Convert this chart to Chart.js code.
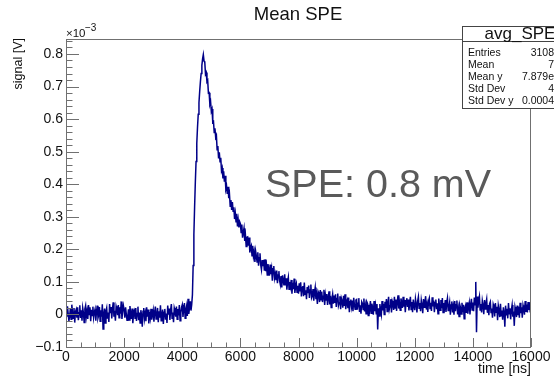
<!DOCTYPE html>
<html lang="en">
<head>
    <meta charset="UTF-8">
    <title>Mean SPE</title>
    <script src="https://cdn.jsdelivr.net/npm/chart.js"></script>
    <style>
        html, body { margin: 0; padding: 0; background: #fff; }
        .wrap { width: 554px; height: 379px; position: relative; }
    </style>
</head>
<body>
    <div class="wrap"><canvas id="speChart" width="554" height="379"></canvas></div>

    <script>
        // averaged waveform, one value per 25 ns bin, in microvolts
        const binWidthNs = 25;
        const sig0to2k = [
            12, -8, 25, 3, -20, -5, 18, -15, 30, 6, -12, 20, -25, 8, 15, -10, 22, -18, 5, 28,
            -11, 13, -19, 20, 5, -25, 17, 27, -6, 10, -14, 29, 0, 22, -21, 14, -3, 24, -9, 7,
            16, -19, 9, 27, -11, -2, 23, -21, 13, -7, 31, -45, 1, 18, -26, 10, 20, -13, 6, -23,
            32, 4, 23, -12, 19, 37, -7, 11, -19, 25, 16, -2, 29, -10, 22, 2, 40, -14, 10, 27
        ];
        const sig2kto4k = [
            14, -10, 22, 1, -18, -7, 16, -17, 26, 4, -14, 18, -27, 6, 12, -12, 20, -20, 3, 24,
            -18, 6, -26, 13, -2, -38, 10, 20, -13, 3, -21, 22, -7, 15, -28, 7, -10, 17, -16, 0,
            13, -22, 6, 24, -14, -5, 20, -24, 10, -10, 28, -19, -2, 15, -29, 7, 17, -16, 3, -26,
            27, -1, 18, -17, 14, 32, -12, 6, -24, 20, 11, -7, 24, -15, 17, -3, 29, -19, 5, 22
        ];
        const sig4kto6k = [
            30, -8, 18, 35, -12, 14, 26, -5, 48, 2, 20, 40, 12,
            30, 60, 150, 245, 330, 405, 470, 525, 575, 615, 650, 685, 715, 740, 765, 785, 798, 778,
            775, 738, 743, 715, 719, 680, 681, 646, 654, 624, 631, 590, 592, 559, 572, 544, 550, 506,
            517, 479, 498, 469, 481, 442, 450, 418, 440, 408, 426, 385, 394, 370, 392, 357, 369, 332,
            351, 321, 345, 317, 329, 293, 311, 285, 309, 270, 290, 267, 285
        ];
        const sig6kto8k = [
            279, 252, 276, 236, 252, 265, 226, 242, 209, 237, 238, 211, 236, 190, 206, 212, 180, 211, 179, 193,
            161, 194, 179, 161, 191, 150, 174, 188, 152, 138, 167, 148, 168, 134, 169, 133, 149, 121, 155, 138,
            119, 153, 124, 140, 104, 140, 149, 112, 124, 105, 135, 96, 121, 133, 104, 92, 118, 83, 120, 104,
            89, 123, 89, 111, 76, 100, 114, 77, 100, 86, 106, 64, 97, 78, 110, 66, 86, 95, 68, 88
        ];
        const sig8kto10k = [
            64, 96, 71, 99, 55, 83, 87, 56, 98, 62, 74, 47, 84, 65, 89, 51, 75, 92, 51, 57,
            78, 42, 67, 83, 47, 59, 32, 70, 64, 38, 75, 45, 70, 38, 56, 76, 29, 60, 44, 63,
            29, 52, 71, 31, 57, 21, 47, 62, 33, 58, 35, 62, 23, 49, 64, 27, 36, 56, 16, 50,
            42, 21, 57, 26, 62, 16, 37, 44, 19, 52, 7, 39, 46, 24, 43, 10, 51, 29, 16, 44
        ];
        const sig10kto12k = [
            46, 15, 34, 50, 8, 28, 2, 39, 34, 15, 49, 9, 27, 2, 39, 34, -3, 30, 17, 41,
            4, 33, 21, -1, 41, 10, 27, 2, 32, -46, 19, -5, 32, 14, 0, 41, 12, 33, 0, 39,
            20, 47, 9, 34, 54, 16, 27, 47, 6, 41, 33, 14, 54, 20, 46, 11, 40, 59, 18, 35,
            13, 49, 38, 20, 54, 24, 45, 7, 42, 50, 23, 46, 12, 34, 54, 15, 38, 7, 46, 25
        ];
        const sig12kto14k = [
            13, 48, 32, 6, 41, 54, 19, 35, 10, 44, 29, 4, 47, 22, 39, 56, 15, 31, 8, 42,
            50, 18, 36, 11, 53, 25, 43, 7, 37, 46, 16, 34, 2, 49, 29, 13, 44, 19, 50, 6,
            35, 21, 44, 8, 37, 50, 12, 22, 37, -1, 29, 40, 6, 25, -1, 41, 10, 30, 43, 0,
            19, -6, 30, 22, 1, 36, 7, 30, -13, 20, 28, 5, 37, 2, 22, 36, 0, 31, 48, 14
        ];
        const sig14kto16k = [
            37, 10, 52, 30, 100, -55, 55, 21, 44, 56, 14, 32, 6, 42, 28, 1, 44, 17, 34, 47,
            5, 29, -2, 33, 39, 6, 18, -10, 31, 23, -6, 35, 7, 24, -18, 27, 13, -8, 33, -4,
            12, -16, 22, 6, -38, 27, -3, 17, -12, 35, 2, 19, -15, 14, 29, -7, 9, -35, 23, 12,
            -8, 27, -2, 23, -10, 36, 4, 22, -10, 28, 17, -1, 41, 8, 30, 6, 38, 14, 37, 6,
            30
        ];

        const titleText = 'Mean SPE';
        const xTickValues = [0, 2000, 4000, 6000, 8000, 10000, 12000, 14000, 16000];
        const yTickValues = [-100, 0, 100, 200, 300, 400, 500, 600, 700, 800];
        const yTickLabels = ['\u22120.1', '0', '0.1', '0.2', '0.3', '0.4', '0.5', '0.6', '0.7', '0.8'];
        const statsTitle = 'avg_SPE';
        const statsNames = ['Entries', 'Mean', 'Mean y', 'Std Dev', 'Std Dev y'];
        const statsValues = ['3108', '7', '7.879e', '4', '0.0004'];

        const FONT = '"Liberation Sans", Arial, Helvetica, sans-serif';
        const signal = [].concat(sig0to2k, sig2kto4k, sig4kto6k, sig6kto8k,
                                 sig8kto10k, sig10kto12k, sig12kto14k, sig14kto16k);
        const points = signal.map((v, i) => ({ x: i * binWidthNs, y: v }));

        // ROOT-like frame, inward ticks and the text around the pad
        const rootStyle = {
            id: 'rootStyle',
            afterDatasetsDraw(chart) {
                const { ctx, chartArea: a, scales: { x, y } } = chart;
                ctx.save();
                ctx.strokeStyle = '#707070';
                ctx.lineWidth = 1;
                ctx.strokeRect(a.left + 0.5, a.top + 0.5, a.right - a.left - 1, a.bottom - a.top);
                ctx.beginPath();
                for (let i = 0; i <= 32; i++) {
                    const px = Math.round(x.getPixelForValue(i * 500)) + 0.5;
                    const len = i % 4 === 0 ? 9 : 4.5;
                    ctx.moveTo(px, a.bottom);
                    ctx.lineTo(px, a.bottom - len);
                }
                for (let i = -5; i <= 42; i++) {
                    const py = Math.round(y.getPixelForValue(i * 20)) + 0.5;
                    const len = i % 5 === 0 ? 13 : 6.5;
                    ctx.moveTo(a.left, py);
                    ctx.lineTo(a.left + len, py);
                }
                ctx.stroke();
                ctx.restore();
            },
            afterDraw(chart) {
                const { ctx, chartArea: a } = chart;
                ctx.save();
                ctx.fillStyle = '#111';
                ctx.textBaseline = 'alphabetic';

                // title
                ctx.font = '18.5px ' + FONT;
                ctx.textAlign = 'center';
                ctx.fillText(titleText, 298, 20);

                // exponent
                ctx.textAlign = 'left';
                ctx.font = '11.5px ' + FONT;
                ctx.fillText('\u00d710', 66, 37);
                ctx.font = '10px ' + FONT;
                ctx.fillText('\u22123', 85, 31);

                // axis titles
                ctx.font = '14px ' + FONT;
                ctx.textAlign = 'right';
                ctx.fillText('time [ns]', a.right, 373);
                ctx.save();
                ctx.translate(22, 38);
                ctx.rotate(-Math.PI / 2);
                ctx.font = '12.5px ' + FONT;
                ctx.fillText('signal [V]', 0, 0);
                ctx.restore();

                // annotation
                ctx.fillStyle = '#5a5a5a';
                ctx.textAlign = 'left';
                ctx.font = '39.5px ' + FONT;
                ctx.fillText('SPE: 0.8 mV', 265, 197);

                // stats box
                ctx.fillStyle = '#fff';
                ctx.fillRect(462, 26, 100, 82);
                ctx.strokeStyle = '#444';
                ctx.lineWidth = 1;
                ctx.strokeRect(462.5, 26.5, 100, 82);
                ctx.beginPath();
                ctx.moveTo(462, 41.5);
                ctx.lineTo(554, 41.5);
                ctx.stroke();
                ctx.fillStyle = '#111';
                ctx.textAlign = 'center';
                ctx.font = '17px ' + FONT;
                ctx.fillText(statsTitle, 520, 39);
                ctx.font = '10.5px ' + FONT;
                statsNames.forEach((name, i) => {
                    const yy = 56 + i * 12;
                    ctx.textAlign = 'left';
                    ctx.fillText(name, 468, yy);
                    ctx.textAlign = 'right';
                    ctx.fillText(statsValues[i], 554, yy);
                });
                ctx.restore();
            }
        };

        const ctx = document.getElementById('speChart').getContext('2d');
        new Chart(ctx, {
            type: 'line',
            data: {
                datasets: [{
                    data: points,
                    borderColor: '#000088',
                    borderWidth: 1.5,
                    pointRadius: 0,
                    tension: 0,
                    fill: false
                }]
            },
            options: {
                responsive: false,
                animation: false,
                parsing: false,
                layout: { padding: { left: 0, right: 23, top: 39, bottom: 0 } },
                plugins: { legend: { display: false }, title: { display: false }, tooltip: { enabled: false } },
                scales: {
                    x: {
                        type: 'linear',
                        min: 0,
                        max: 16000,
                        grid: { display: false, drawTicks: false },
                        border: { display: false },
                        afterBuildTicks: s => { s.ticks = xTickValues.map(v => ({ value: v })); },
                        afterFit: s => { s.height = 32; },
                        ticks: {
                            padding: 2,
                            color: '#111',
                            maxRotation: 0,
                            font: { family: FONT, size: 14 },
                            callback: v => String(v)
                        }
                    },
                    y: {
                        type: 'linear',
                        min: -100,
                        max: 846,
                        grid: { display: false, drawTicks: false },
                        border: { display: false },
                        afterBuildTicks: s => { s.ticks = yTickValues.map(v => ({ value: v })); },
                        afterFit: s => { s.width = 66; },
                        ticks: {
                            padding: 3,
                            color: '#111',
                            font: { family: FONT, size: 14 },
                            callback: (v, i) => yTickLabels[i]
                        }
                    }
                }
            },
            plugins: [rootStyle]
        });
    </script>
</body>
</html>
